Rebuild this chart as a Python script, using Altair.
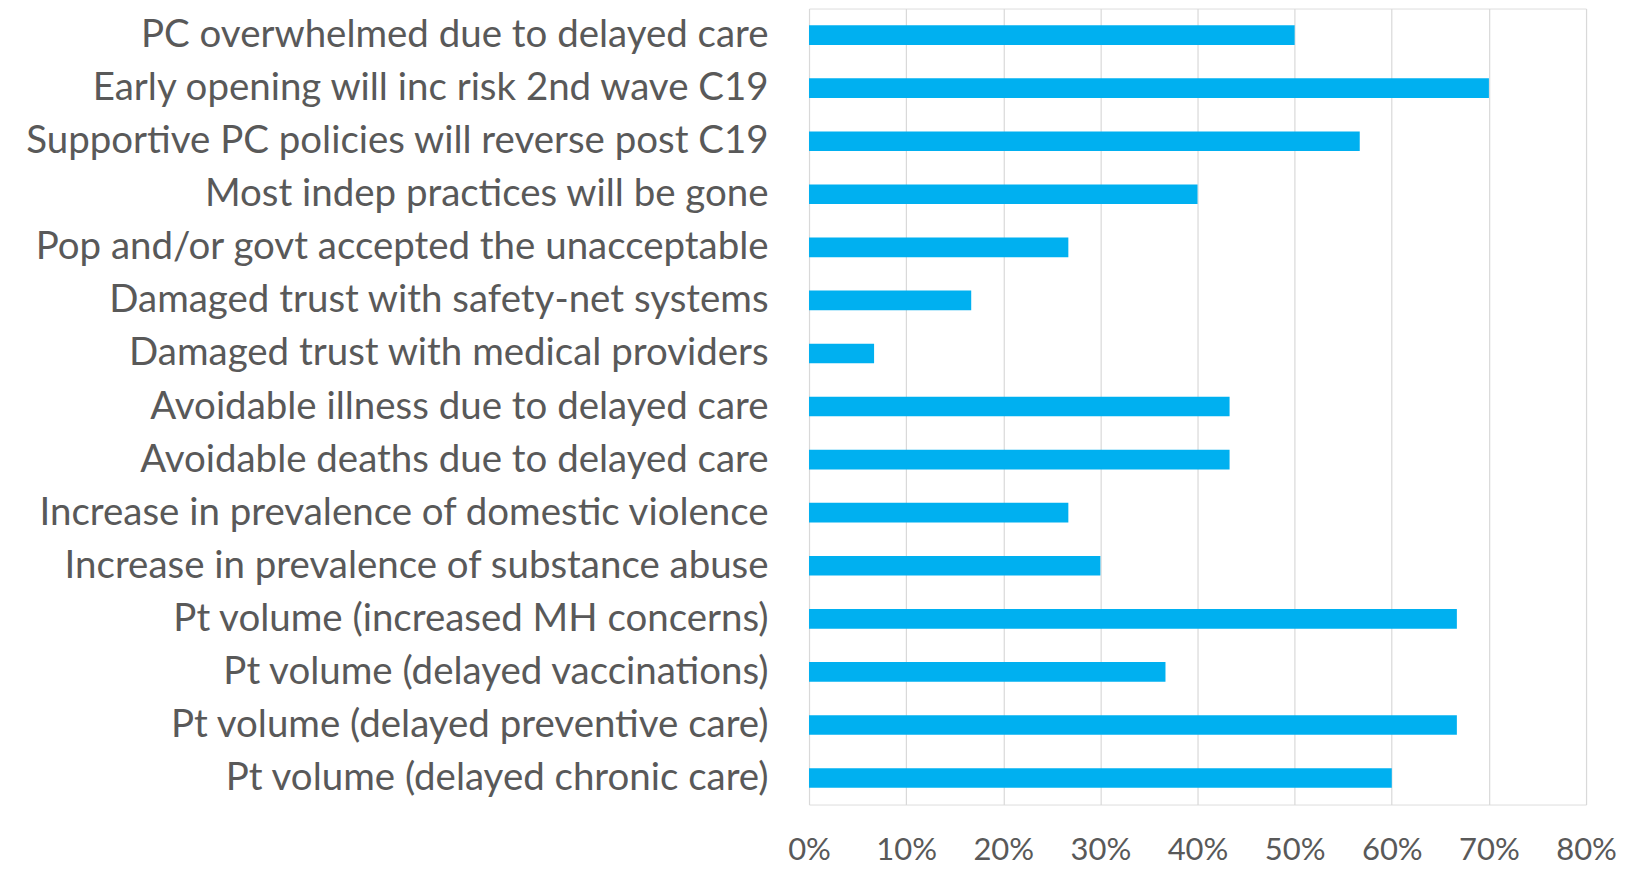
import altair as alt
import pandas as pd

categories = [
    "PC overwhelmed due to delayed care",
    "Early opening will inc risk 2nd wave C19",
    "Supportive PC policies will reverse post C19",
    "Most indep practices will be gone",
    "Pop and/or govt accepted the unacceptable",
    "Damaged trust with safety-net systems",
    "Damaged trust with medical providers",
    "Avoidable illness due to delayed care",
    "Avoidable deaths due to delayed care",
    "Increase in prevalence of domestic violence",
    "Increase in prevalence of substance abuse",
    "Pt volume (increased MH concerns)",
    "Pt volume (delayed vaccinations)",
    "Pt volume (delayed preventive care)",
    "Pt volume (delayed chronic care)",
]
values = [0.500, 0.700, 0.567, 0.400, 0.267, 0.167, 0.067, 0.433, 0.433,
          0.267, 0.300, 0.667, 0.367, 0.667, 0.600]
tick_values = [0, 0.1, 0.2, 0.3, 0.4, 0.5, 0.6, 0.7, 0.8]

df = pd.DataFrame({"category": categories, "value": values})

FONT = "Lato"
TEXT = "#595959"

chart = alt.Chart(df).mark_bar(color="#00B0F0").encode(
    x=alt.X("value:Q",
            scale=alt.Scale(domain=[0, 0.8], nice=False),
            axis=alt.Axis(format=".0%", values=tick_values,
                          title=None, domain=False, ticks=False, tickSize=0,
                          grid=True, gridColor="#D9D9D9", gridWidth=1.2,
                          labelFont=FONT, labelFontSize=31, labelColor=TEXT,
                          labelPadding=31, labelFlush=False)),
    y=alt.Y("category:N", sort=None,
            scale=alt.Scale(paddingInner=0.63, paddingOuter=0.315),
            axis=alt.Axis(title=None, domain=False, ticks=False, tickSize=0,
                          labelFont=FONT, labelFontSize=38.5, labelColor=TEXT,
                          labelPadding=41, labelLimit=0)),
).properties(
    width=778, height=797,
    autosize=alt.AutoSizeParams(type="none"),
    padding={"left": 802, "top": 0, "right": 38, "bottom": 64},
).configure_view(stroke=None).configure(background="white")

chart.save("out.html", embed_options={"renderer": "svg", "actions": False})
